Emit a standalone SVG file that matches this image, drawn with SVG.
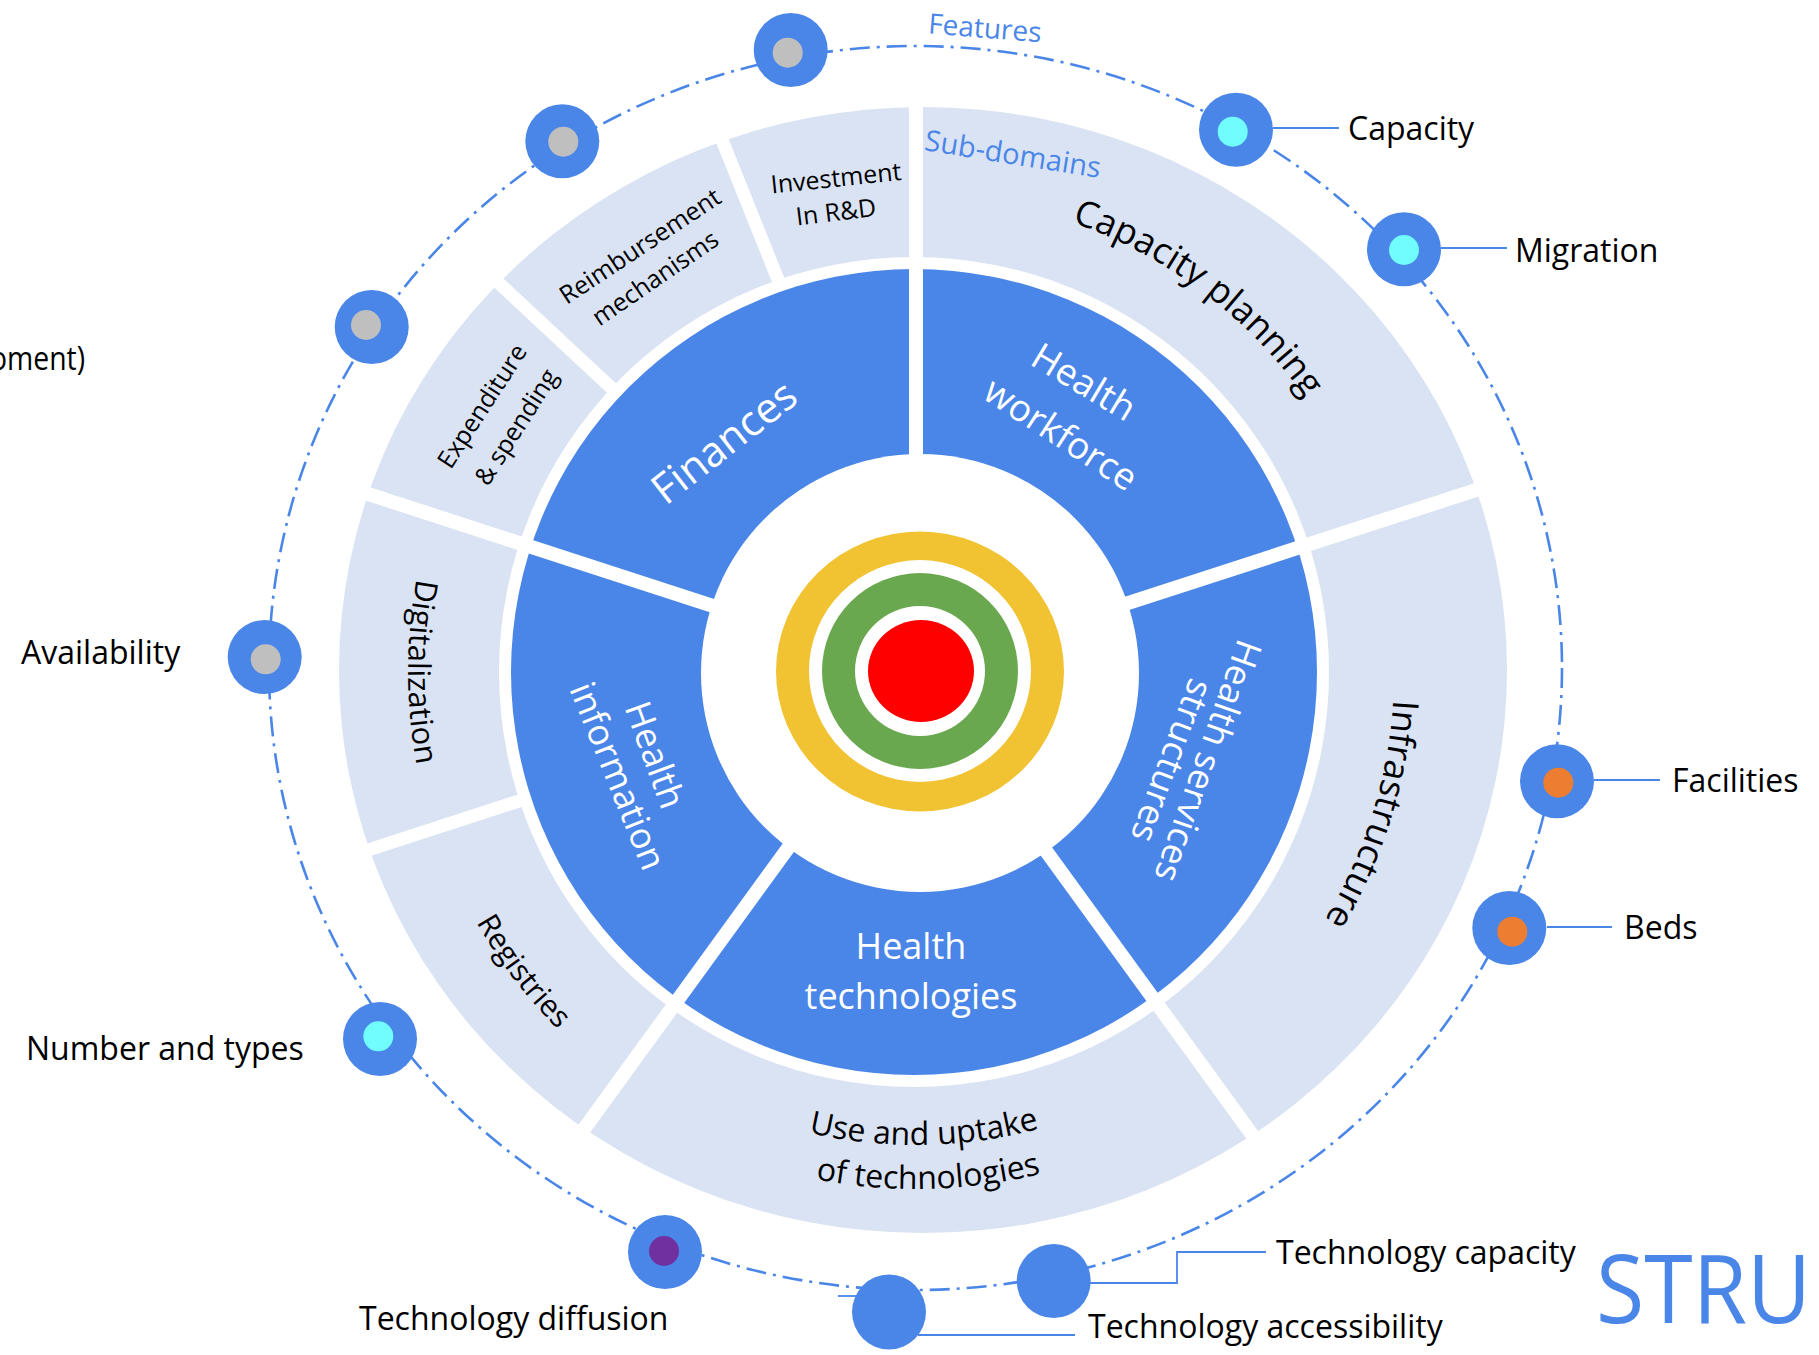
<svg xmlns="http://www.w3.org/2000/svg" width="1819" height="1355" viewBox="0 0 1819 1355">
<defs>
<style>
.blue{fill:#4A86E8}
.light{fill:#DAE3F3}
.white{fill:#FFFFFF}
.gap{stroke:#FFFFFF;stroke-width:14;fill:none}
.lgap{stroke:#FFFFFF;stroke-width:13;fill:none}
.dash{fill:none;stroke:#4A86E8;stroke-width:2.6;stroke-dasharray:20 7 3 7}
.lead{fill:none;stroke:#4A86E8;stroke-width:1.8}
text{font-family:"Open Sans","Noto Sans",sans-serif}
.lbl{font-size:32px;fill:#000000}
.dom{font-size:36px;fill:#FFFFFF;text-anchor:middle}
.sub{font-size:25px;fill:#000000;text-anchor:middle}
.subL{font-size:36px;fill:#000000;text-anchor:middle}
.accent{fill:#4A86E8}
.node{fill:#4A86E8}
.gray{fill:#BFBFBF}
.cyan{fill:#71FCFD}
.orange{fill:#ED7D31}
.purple{fill:#7030A0}
</style>
<path id="arcCap" d="M 891.1 196.7 A 476 476 0 0 1 1379.8 564.9"/>
<path id="arcInfra" d="M 1357.0 487.5 A 478 478 0 0 1 1174.2 1074.2"/>
<path id="arcUse" d="M 618.3 1039.6 A 473 473 0 0 0 1226.3 1029.0"/>
<path id="arcOf" d="M 593.4 1076.0 A 517 517 0 0 0 1257.9 1059.8"/>
<path id="arcDig" d="M 526.9 345.5 A 508 508 0 0 0 526.9 998.5"/>
<path id="arcReg" d="M 410.6 648.2 A 506 506 0 0 0 804.8 1165.6"/>
</defs>

<g id="wheel">
<ellipse class="light" cx="923" cy="670" rx="584" ry="563"/>
<circle class="white" cx="914" cy="672" r="415"/>
<circle class="blue" cx="914" cy="672" r="403"/>
<circle class="white" cx="920" cy="673" r="219"/>
<line class="gap" x1="916" y1="472" x2="916" y2="77"/>
<line class="gap" x1="1106.2" y1="610.2" x2="1481.9" y2="488.1"/>
<line class="gap" x1="1033.6" y1="833.8" x2="1265.7" y2="1153.4"/>
<line class="gap" x1="798.4" y1="833.8" x2="566.3" y2="1153.4"/>
<line class="gap" x1="725.8" y1="610.2" x2="350.1" y2="488.1"/>
<line class="lgap" x1="528.0" y1="798.1" x2="350.1" y2="855.9"/>
<line class="lgap" x1="617.6" y1="393.7" x2="480.8" y2="266.2"/>
<line class="lgap" x1="781" y1="287" x2="708" y2="105"/>
</g>

<g id="target">
<ellipse fill="#F1C232" cx="920" cy="671.5" rx="144" ry="140"/>
<circle class="white" cx="920" cy="671" r="111"/>
<circle fill="#6AA84F" cx="920" cy="671" r="98"/>
<circle class="white" cx="920" cy="671" r="65"/>
<ellipse fill="#FF0000" cx="921" cy="671" rx="53" ry="51"/>
</g>

<g id="domain-finances">
<text class="dom" style="font-size:42px" transform="translate(724,442) rotate(-38)" dy="0.35em">Finances</text>
</g>
<g id="domain-health-workforce">
<text class="dom" style="font-size:37px" transform="translate(1084,382) rotate(31)" dy="0.35em">Health</text>
<text class="dom" style="font-size:37px" transform="translate(1061,434) rotate(33)" dy="0.35em">workforce</text>
</g>
<g id="domain-health-information">
<text class="dom" transform="translate(655,755) rotate(70)" dy="0.35em">Health</text>
<text class="dom" transform="translate(618,776) rotate(68)" dy="0.35em">information</text>
</g>
<g id="domain-health-services">
<text class="dom" transform="translate(1208,761) rotate(109.5)" dy="0.35em">Health services</text>
<text class="dom" transform="translate(1172,761) rotate(110.5)" dy="0.35em">structures</text>
</g>
<g id="domain-health-technologies">
<text class="dom" x="911" y="959">Health</text>
<text class="dom" x="911" y="1009">technologies</text>
</g>

<g id="sub-capacity-planning">
<text class="subL"><textPath href="#arcCap" startOffset="50%">Capacity planning</textPath></text>
</g>
<g id="sub-infrastructure">
<text class="subL"><textPath href="#arcInfra" startOffset="50%">Infrastructure</textPath></text>
</g>
<g id="sub-use-uptake">
<text class="subL" style="font-size:32px"><textPath href="#arcUse" startOffset="50%">Use and uptake</textPath></text>
<text class="subL" style="font-size:32px"><textPath href="#arcOf" startOffset="50%">of technologies</textPath></text>
</g>
<g id="sub-digitalization">
<text class="subL" style="font-size:31px"><textPath href="#arcDig" startOffset="50%">Digitalization</textPath></text>
</g>
<g id="sub-registries">
<text class="subL" style="font-size:30px"><textPath href="#arcReg" startOffset="50%">Registries</textPath></text>
</g>
<g id="sub-expenditure">
<text class="sub" transform="translate(482,406) rotate(-57)" dy="0.35em">Expenditure</text>
<text class="sub" transform="translate(516,427) rotate(-57.5)" dy="0.35em">&amp; spending</text>
</g>
<g id="sub-reimbursement">
<text class="sub" transform="translate(640,246) rotate(-33.5)" dy="0.35em">Reimbursement</text>
<text class="sub" transform="translate(655,278) rotate(-34.5)" dy="0.35em">mechanisms</text>
</g>
<g id="sub-investment">
<text class="sub" transform="translate(836,178) rotate(-6)" dy="0.35em">Investment</text>
<text class="sub" transform="translate(836,212) rotate(-7)" dy="0.35em">In R&amp;D</text>
</g>

<g id="ring-labels">
<text class="accent" style="font-size:29px;text-anchor:middle" transform="translate(1013,154) rotate(9)" dy="0.35em">Sub-domains</text>
<text class="accent" style="font-size:28px;text-anchor:middle" transform="translate(985,28) rotate(4.5)" dy="0.35em">Features</text>
</g>

<g id="connectors">
<ellipse class="dash" cx="915.5" cy="668" rx="646.5" ry="622"/>
<line class="lead" x1="1273" y1="128" x2="1339" y2="128"/>
<line class="lead" x1="1441" y1="248" x2="1507" y2="248"/>
<line class="lead" x1="1594" y1="780" x2="1660" y2="780"/>
<line class="lead" x1="1547" y1="927" x2="1612" y2="927"/>
<polyline class="lead" points="1090,1283 1177,1283 1177,1252 1266,1252"/>
<line class="lead" x1="918" y1="1335" x2="1075" y2="1335"/>
<line class="lead" x1="838" y1="1296" x2="858" y2="1296"/>
</g>

<g id="feature-1"><circle class="node" cx="790.7" cy="50" r="37"/><circle class="gray" cx="787.7" cy="52.7" r="15"/></g>
<g id="feature-2"><circle class="node" cx="562.3" cy="141.3" r="37"/><circle class="gray" cx="563.3" cy="141.7" r="15"/></g>
<g id="feature-3"><circle class="node" cx="371.7" cy="327" r="37"/><circle class="gray" cx="366" cy="325" r="15"/></g>
<g id="feature-availability"><circle class="node" cx="264.7" cy="657" r="37"/><circle class="gray" cx="265.7" cy="659.3" r="15"/></g>
<g id="feature-capacity"><circle class="node" cx="1236" cy="129.7" r="37"/><circle class="cyan" cx="1232.7" cy="131.7" r="15"/></g>
<g id="feature-migration"><circle class="node" cx="1404" cy="249.3" r="37"/><circle class="cyan" cx="1404" cy="250" r="15"/></g>
<g id="feature-facilities"><circle class="node" cx="1557" cy="781.3" r="37"/><circle class="orange" cx="1558.3" cy="782.7" r="15"/></g>
<g id="feature-beds"><circle class="node" cx="1509.3" cy="928" r="37"/><circle class="orange" cx="1512.3" cy="931.7" r="15"/></g>
<g id="feature-number-types"><circle class="node" cx="380" cy="1039" r="37"/><circle class="cyan" cx="378.3" cy="1036.3" r="15"/></g>
<g id="feature-tech-diffusion"><circle class="node" cx="665" cy="1252" r="37"/><circle class="purple" cx="664" cy="1251" r="15"/></g>
<g id="feature-tech-accessibility"><ellipse class="node" cx="889" cy="1312" rx="37" ry="37.5"/></g>
<g id="feature-tech-capacity"><circle class="node" cx="1053.7" cy="1281" r="37"/></g>

<g id="labels">
<text class="lbl" x="1348" y="140">Capacity</text>
<text class="lbl" x="1515" y="262">Migration</text>
<text class="lbl" x="1672" y="792">Facilities</text>
<text class="lbl" x="1624" y="939">Beds</text>
<text class="lbl" x="21" y="664">Availability</text>
<text class="lbl" x="26" y="1060">Number and types</text>
<text class="lbl" x="359" y="1330">Technology diffusion</text>
<text class="lbl" x="1276" y="1264">Technology capacity</text>
<text class="lbl" x="1088" y="1338">Technology accessibility</text>
<text class="lbl" x="-10" y="370" textLength="95" lengthAdjust="spacingAndGlyphs">oment)</text>
<text class="accent" x="1596" y="1323" style="font-size:96px" textLength="215" lengthAdjust="spacingAndGlyphs">STRU</text>
</g>
</svg>
